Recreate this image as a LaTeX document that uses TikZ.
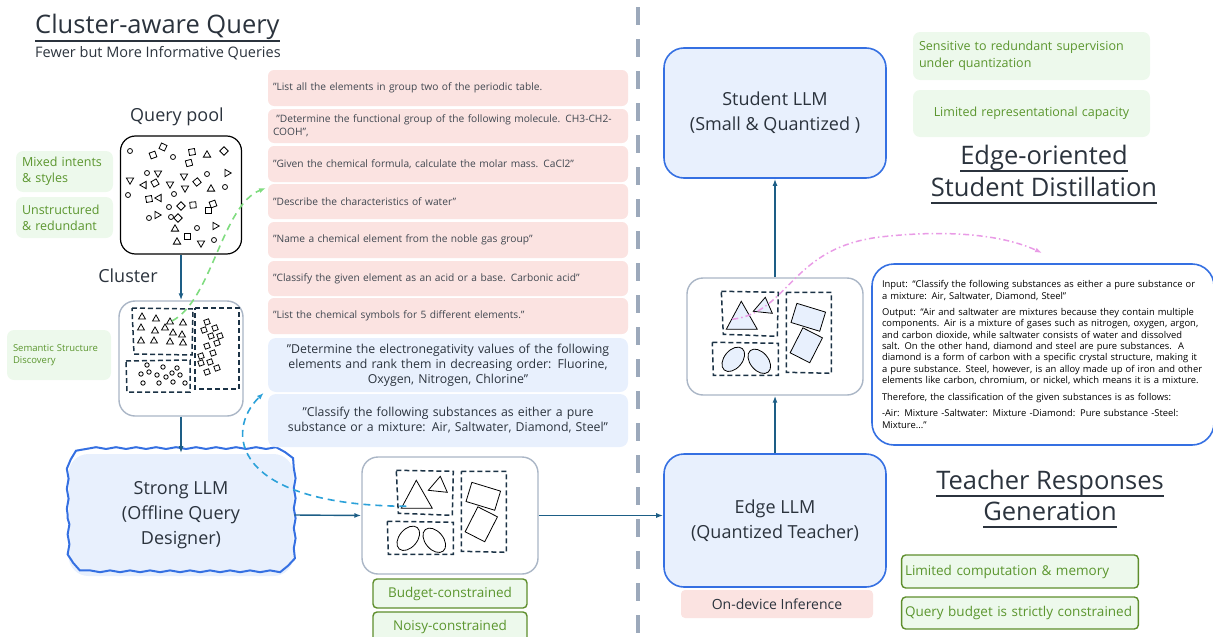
\documentclass[tikz,border=0pt]{standalone}
\usepackage{fontspec}
\setmainfont{Open Sans}
\usetikzlibrary{arrows.meta,calc,decorations.pathmorphing}

\definecolor{inkdark}{HTML}{2B333D}
\definecolor{arrowteal}{HTML}{1D5E86}
\definecolor{llmblue}{HTML}{3570E2}
\definecolor{llmfill}{HTML}{E8F0FD}
\definecolor{boxgray}{HTML}{AAB6C6}
\definecolor{notegreen}{HTML}{5B962E}
\definecolor{notefill}{HTML}{EDF9EC}
\definecolor{notedge}{HTML}{5E8E2C}
\definecolor{querypink}{HTML}{FBE3E1}
\definecolor{groupink}{HTML}{1B3245}
\definecolor{divgray}{HTML}{9CA9BB}
\definecolor{flowcyan}{HTML}{2BA1D9}
\definecolor{flowgreen}{HTML}{80DC80}
\definecolor{floworchid}{HTML}{E99BE6}

\newcommand{\fsz}[2]{\fontsize{#1}{#2}\selectfont}

% dashed groups of the cluster boxes, origin at the box corner
\newcommand{\groupedglyphs}[1]{%
	\draw[groupline] (35,14) -- (92,15) -- (91,59) -- (37,57) -- cycle;
	\draw[groupline] (100,15) -- (145,15) -- (145,96) -- (100,95) -- cycle;
	\draw[groupline] (26,65) -- (92,66) -- (92,98) -- (27,98) -- cycle;
	\draw[glyph,fill=#1] (40,52) -- (55,24) -- (71,52) -- cycle;
	\draw[glyph,fill=#1] (67,34) -- (79,20) -- (86,36) -- cycle;
	\draw[glyph,fill=#1,shift={(122,40)},rotate=-17] (-15pt,-10pt) rectangle (15pt,10pt);
	\draw[glyph,fill=#1,shift={(120,68)},rotate=-27] (-11pt,-14pt) rectangle (11pt,14pt);
	\draw[glyph,fill=#1,shift={(47,82)},rotate=50] (0,0) ellipse [x radius=14pt,y radius=9pt];
	\draw[glyph,fill=#1,shift={(73,84)},rotate=-50] (0,0) ellipse [x radius=14pt,y radius=9pt];
}

\begin{document}
\begin{tikzpicture}[x=1pt, y=-1pt, >={Latex[length=7pt,width=5pt]},
	flow/.style={->, draw=arrowteal, line width=1.4pt},
	hint/.style={->, line width=1.6pt, dash pattern=on 7pt off 5pt},
	headline/.style={inner sep=0pt, text=inkdark, font=\fsz{25.5}{30}},
	titleline/.style={draw=inkdark, line width=1.3pt},
	llm/.style={draw=llmblue, line width=1.6pt, fill=llmfill, rounded corners=20pt, align=center, text=inkdark, font=\fsz{18}{25}},
	note/.style={fill=notefill, rounded corners=7pt, text=notegreen, align=left, inner sep=6pt},
	tag/.style={draw=notedge, line width=1.4pt, fill=notefill, rounded corners=4pt, text=notegreen, font=\fsz{13.5}{16}},
	query/.style={fill=querypink, rounded corners=6pt, text=inkdark!90, text width=350pt, align=left, inner sep=5pt, font=\fsz{10.2}{13.5}},
	picked/.style={fill=llmfill, rounded corners=8pt, text=inkdark, text width=350pt, align=center, inner sep=5pt, font=\fsz{12.3}{15}},
	groupbox/.style={draw=boxgray, line width=1.4pt, rounded corners=16pt, fill=white, minimum width=176pt, minimum height=117pt},
	groupline/.style={draw=groupink, line width=1.5pt, dash pattern=on 5pt off 3pt},
	glyph/.style={draw=black, line width=0.8pt},
	]
	\useasboundingbox (0,0) rectangle (1213,637);

	\draw[draw=divgray, line width=4.5pt, dash pattern=on 18pt off 14pt] (638,7) -- (638,640);

	% left half: query design
	\node[headline, anchor=base west] (ctitle) at (35,34) {Cluster-aware Query};
	\draw[titleline] ($(ctitle.base west)+(0,7)$) -- ($(ctitle.base east)+(0,7)$);
	\node[inner sep=0pt, anchor=base west, text=inkdark, font=\fsz{14.5}{16}] (csub) at (35,57) {Fewer but More Informative Queries};

	\node[font=\fsz{18}{22}, text=inkdark] (poollabel) at (177,117) {Query pool};
	\node[draw, line width=1.2pt, rounded corners=15pt, minimum width=121pt, minimum height=118pt] (pool) at (181,195) {};
	\foreach \gx/\gy in {130/151,173/157,147/173,207/174,225/187,128/195,174/194,169/207,149/218,171/217,197/228,214/240}
		\draw[glyph] (\gx,\gy) circle[radius=2.5pt];
	\foreach \gx/\gy/\ga in {153/155/20,163/147/-25,192/152/10,189/163/15,155/183/30,197/182/40,149/199/10,193/205/5,208/210/0,213/204/20,187/236/0,224/151/45,181/206/45,178/218/45}
		\draw[glyph,shift={(\gx,\gy)},rotate=\ga] (-3pt,-3pt) rectangle (3pt,3pt);
	\foreach \gx/\gy/\ga in {207/155/0,158/173/180,184/176/180,227/173/150,130/180/180,144/185/90,170/184/180,185/188/180,211/189/0,159/198/90,157/215/150,175/229/0,215/226/30,177/242/0,201/243/180}
		\draw[glyph,shift={(\gx,\gy)},rotate=\ga] (90:4.2pt) -- (210:4.2pt) -- (330:4.2pt) -- cycle;

	\node[note, text width=85pt, minimum height=41pt, font=\fsz{12.5}{16}] (mixed) at (64.5,171.5) {Mixed intents\\\& styles};
	\node[note, text width=85pt, minimum height=41pt, font=\fsz{12.5}{16}] (unstructured) at (64.5,217.5) {Unstructured\\\& redundant};

	\node[font=\fsz{18}{22}, text=inkdark] (clusterlabel) at (128,276) {Cluster};
	\node[groupbox, minimum width=124pt, minimum height=115pt] (cluster) at (181,358.5) {};
	\draw[groupline] (132,308) -- (193,309) -- (192,355) -- (134,354) -- cycle;
	\draw[groupline] (195,308) -- (239,308) -- (239,389) -- (195,389) -- cycle;
	\draw[groupline] (126,361) -- (190,360) -- (190,392) -- (127,392) -- cycle;
	\foreach \gx/\gy in {142/317,156/319,170/322,183/323,141/328,155/331,165/328,173/333,182/335,141/341,154/341,170/342,183/343}
		\draw[glyph,shift={(\gx,\gy)}] (90:4pt) -- (210:4pt) -- (330:4pt) -- cycle;
	\foreach \gx/\gy in {207/322,215/328,204/330,211/336,220/336,217/343,207/346,213/353,201/356,210/362,201/363,217/368,207/372}
		\draw[glyph,shift={(\gx,\gy)},rotate=20] (-2.5pt,-2.5pt) rectangle (2.5pt,2.5pt);
	\foreach \gx/\gy in {147/365,163/367,177/368,141/374,149/372,157/375,166/377,172/373,180/375,143/383,159/383,173/382,185/383}
		\draw[glyph] (\gx,\gy) circle[radius=2.2pt];
	\node[note, text width=92pt, minimum height=50pt, font=\fsz{9.5}{12}] (semantic) at (59,355) {Semantic Structure\\Discovery};

	\node[llm, draw=none, minimum width=225pt, minimum height=122pt] (strong) at (181,515) {Strong LLM\\(Offline Query\\Designer)};
	\draw[draw=llmblue, line width=2pt, decorate, decoration={snake, amplitude=0.9pt, segment length=20pt}]
		(strong.west) -- ($(strong.north west)+(0,20)$) arc[start angle=180, end angle=90, radius=20pt]
		-- ($(strong.north east)+(-20,0)$) arc[start angle=90, end angle=0, radius=20pt]
		-- ($(strong.south east)+(0,-20)$) arc[start angle=0, end angle=-90, radius=20pt]
		-- ($(strong.south west)+(20,0)$) arc[start angle=-90, end angle=-180, radius=20pt]
		-- (strong.west);

	\node[groupbox] (designed) at (450,515.5) {};
	\begin{scope}[shift={(designed.north west)}]
		\groupedglyphs{white}
	\end{scope}
	\node[tag, minimum width=154pt, minimum height=29pt] (budget) at (450,593.5) {Budget-constrained};
	\node[tag, minimum width=154pt, minimum height=30pt] (noisy) at (450,627) {Noisy-constrained};

	\node[query, minimum height=36pt] (q1) at (448,88) {"List all the elements in group two of the periodic table.};
	\node[query, minimum height=34pt] (q2) at (448,126) {\ "Determine the functional group of the following molecule. CH3-CH2-\\COOH",};
	\node[query, minimum height=36pt] (q3) at (448,164) {"Given the chemical formula, calculate the molar mass. CaCl2"};
	\node[query, minimum height=35pt] (q4) at (448,201.5) {"Describe the characteristics of water"};
	\node[query, minimum height=36pt] (q5) at (448,240) {"Name a chemical element from the noble gas group"};
	\node[query, minimum height=35pt] (q6) at (448,278.5) {"Classify the given element as an acid or a base. Carbonic acid"};
	\node[query, minimum height=36pt] (q7) at (448,316) {"List the chemical symbols for 5 different elements."};
	\node[picked, minimum height=54pt] (b1) at (448,365) {"Determine the electronegativity values of the following\\elements and rank them in decreasing order: Fluorine,\\Oxygen, Nitrogen, Chlorine"};
	\node[picked, minimum height=53pt] (b2) at (448,420.5) {"Classify the following substances as either a pure\\substance or a mixture: Air, Saltwater, Diamond, Steel"};

	% right half: teacher and student
	\node[llm, minimum width=222pt, minimum height=130pt] (student) at (775,113) {Student LLM\\(Small \& Quantized )};
	\node[note, text width=225pt, minimum height=48pt, font=\fsz{12.5}{17}] (sensitive) at (1031.5,56) {Sensitive to redundant supervision\\under quantization};
	\node[note, align=center, text width=225pt, minimum height=47pt, font=\fsz{12.5}{17}] (capacity) at (1031.5,113.5) {Limited representational capacity};
	\node[headline, anchor=base] (stitle1) at (1044,164) {Edge-oriented};
	\draw[titleline] ($(stitle1.base west)+(0,7)$) -- ($(stitle1.base east)+(0,7)$);
	\node[headline, anchor=base] (stitle2) at (1044,196) {Student Distillation};
	\draw[titleline] ($(stitle2.base west)+(0,7)$) -- ($(stitle2.base east)+(0,7)$);

	\node[groupbox] (refined) at (775,336.5) {};
	\begin{scope}[shift={(refined.north west)}]
		\groupedglyphs{llmfill}
	\end{scope}

	\node[draw=llmblue, line width=1.6pt, rounded corners=22pt, fill=white, minimum width=342pt, minimum height=181pt, text width=322pt, align=left, inner sep=10pt, text=black, font=\fsz{9.4}{11.4}] (answer) at (1043,354.5) {Input: “Classify the following substances as either a pure substance or\\a mixture: Air, Saltwater, Diamond, Steel”\\[4.6pt]
	Output: “Air and saltwater are mixtures because they contain multiple\\components. Air is a mixture of gases such as nitrogen, oxygen, argon,\\and carbon dioxide, while saltwater consists of water and dissolved\\salt. On the other hand, diamond and steel are pure substances.\ \ A\\diamond is a form of carbon with a specific crystal structure, making it\\a pure substance. Steel, however, is an alloy made up of iron and other\\elements like carbon, chromium, or nickel, which means it is a mixture.\\[5.6pt]
	Therefore, the classification of the given substances is as follows:\\[4.6pt]
	-Air: Mixture -Saltwater: Mixture -Diamond: Pure substance -Steel:\\Mixture...”};

	\node[llm, minimum width=222pt, minimum height=133pt] (edge) at (775,520.5) {Edge LLM\\(Quantized Teacher)};
	\node[fill=querypink, rounded corners=4pt, minimum width=192pt, minimum height=28pt, text=inkdark, font=\fsz{14}{17}] (ondevice) at (777,604) {On-device Inference};
	\node[headline, anchor=base] (ttitle1) at (1050,489) {Teacher Responses};
	\draw[titleline] ($(ttitle1.base west)+(0,7)$) -- ($(ttitle1.base east)+(0,7)$);
	\node[headline, anchor=base] (ttitle2) at (1050,520) {Generation};
	\draw[titleline] ($(ttitle2.base west)+(0,7)$) -- ($(ttitle2.base east)+(0,7)$);
	\node[tag, align=left, text width=230pt, minimum height=33pt] (compute) at (1020,571.5) {Limited computation \& memory};
	\node[tag, align=left, text width=230pt, minimum height=32pt] (strict) at (1020,613) {Query budget is strictly constrained};

	% connectors
	\draw[flow] (pool.south) -- (cluster.north);
	\draw[flow] (cluster.south) -- (strong.north);
	\draw[flow] (strong.east) -- (designed.west);
	\draw[flow] (designed.east) -- (designed.east -| edge.west);
	\draw[flow] (edge.north) -- (refined.south);
	\draw[flow] (refined.north) -- (student.south);

	\coordinate (tristart) at (172,321);
	\coordinate (greentip) at (266,188);
	\draw[hint, draw=flowgreen] (tristart) .. controls (212,300) and (222,205) .. (greentip);
	\coordinate (bluestart) at ($(designed.north west)+(45,50)$);
	\coordinate (bluetip) at ($(b2.north west)+(-4,-1)$);
	\draw[hint, draw=flowcyan] (bluestart) .. controls (230,505) and (225,430) .. (bluetip);
	\coordinate (orchidstart) at ($(refined.north west)+(46,42)$);
	\coordinate (orchidtip) at (1042,253);
	\draw[->, draw=floworchid, line width=1.5pt, dash pattern=on 6pt off 3pt on 1.5pt off 3pt] (orchidstart) .. controls (790,312) and (790,248) .. (880,237) .. controls (960,228) and (1010,238) .. (orchidtip);
\end{tikzpicture}
\end{document}
